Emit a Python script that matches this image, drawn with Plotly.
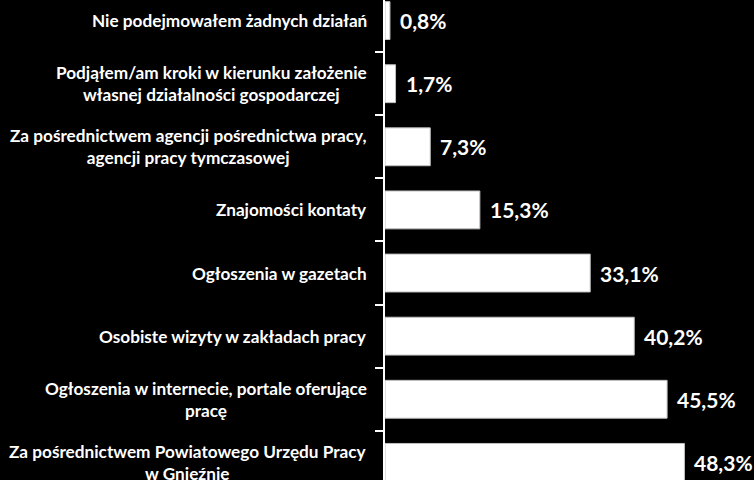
import plotly.graph_objects as go

categories = [
    "Za pośrednictwem Powiatowego Urzędu Pracy<br>w Gnieźnie",
    "Ogłoszenia w internecie, portale oferujące<br>pracę",
    "Osobiste wizyty w zakładach pracy",
    "Ogłoszenia w gazetach",
    "Znajomości kontaty",
    "Za pośrednictwem agencji pośrednictwa pracy,<br>agencji pracy tymczasowej",
    "Podjąłem/am kroki w kierunku założenie<br>własnej działalności gospodarczej",
    "Nie podejmowałem żadnych działań",
]
values = [48.3, 45.5, 40.2, 33.1, 15.3, 7.3, 1.7, 0.8]
value_labels = ["48,3%", "45,5%", "40,2%", "33,1%", "15,3%", "7,3%", "1,7%", "0,8%"]

FONT = "Lato"

fig = go.Figure()
fig.add_trace(go.Bar(
    y=categories, x=values, orientation="h",
    marker=dict(color="white", line=dict(color="#bfbfbf", width=1)),
    width=0.6, hoverinfo="skip",
))

annotations = []
for c, v, t in zip(categories, values, value_labels):
    annotations.append(dict(
        x=v, y=c, xref="x", yref="y", text="<b>" + t + "</b>", showarrow=False,
        xanchor="left", yanchor="middle", xshift=8,
        font=dict(family=FONT, size=21, color="white"),
    ))
    annotations.append(dict(
        x=0, y=c, xref="paper", yref="y",
        text="<b>" + c.replace("<br>", "</b><br><b>") + "</b>",
        showarrow=False, xanchor="right", yanchor="middle", xshift=-16,
        align="center",
        font=dict(family=FONT, size=17.2, color="white"),
    ))

fig.update_layout(
    width=754, height=480,
    margin=dict(l=385, r=0, t=0, b=0),
    paper_bgcolor="black", plot_bgcolor="black",
    showlegend=False,
    annotations=annotations,
    xaxis=dict(range=[0, 369 / 6.2], showgrid=False, zeroline=False,
               showticklabels=False, showline=False),
    yaxis=dict(categoryorder="array", categoryarray=categories,
               range=[-0.279, 7.326], showgrid=False, zeroline=False,
               showline=True, linecolor="white", linewidth=1.5,
               ticks="outside", tickson="boundaries", ticklen=8,
               tickcolor="white", tickwidth=1.5, showticklabels=False),
)

fig.write_html("out.html")
